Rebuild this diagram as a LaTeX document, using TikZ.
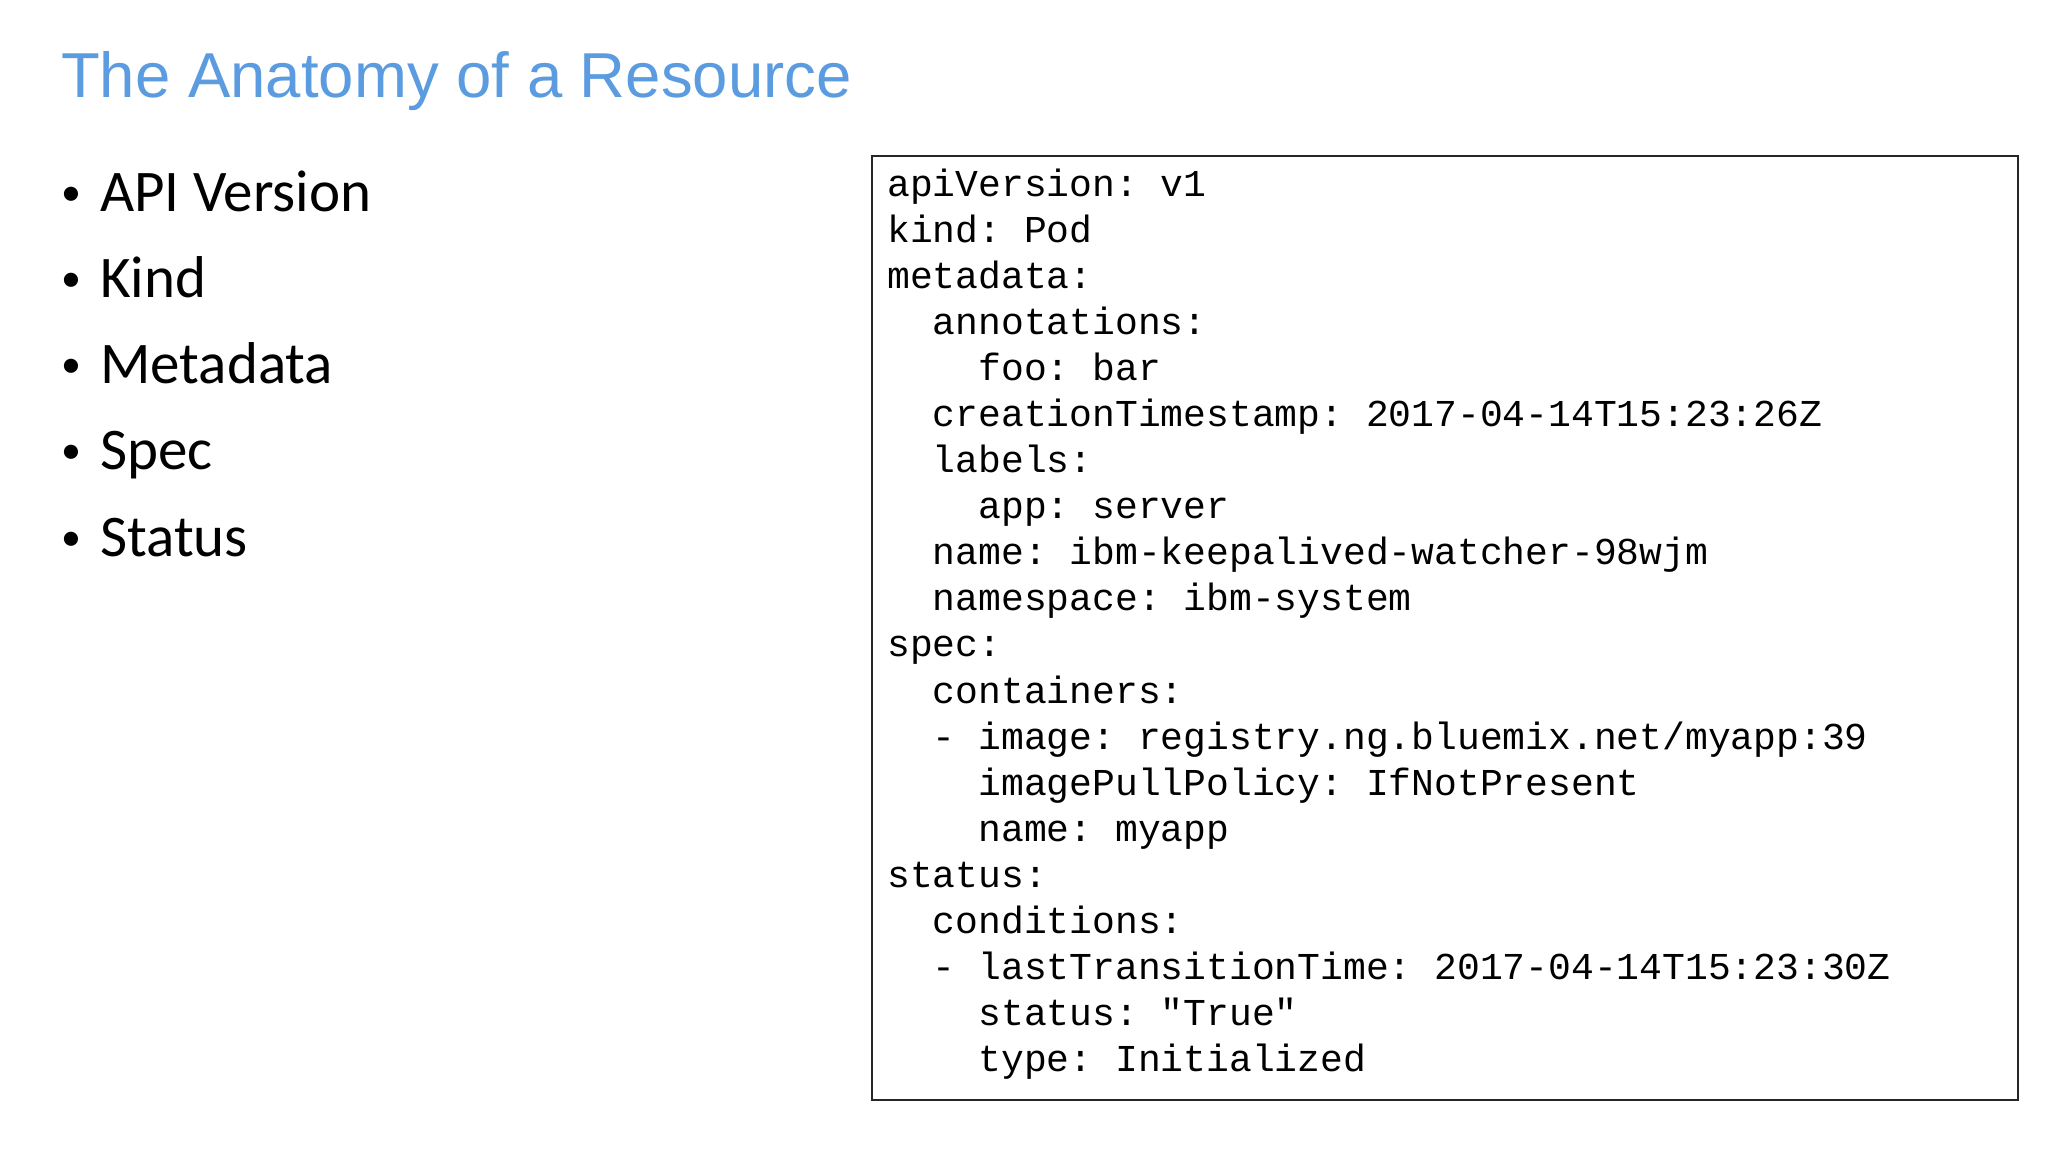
\documentclass[tikz,border=0pt]{standalone}
\usepackage{fontspec}
\setmainfont{Liberation Sans}
\newfontfamily\codefont{Liberation Mono}
\newfontfamily\bodyfont{Carlito}
\definecolor{titleblue}{HTML}{5B9BE0}
\begin{document}
\begin{tikzpicture}[x=1pt,y=-1pt,
  code/.style={anchor=west,inner sep=0pt,font=\codefont\fontsize{38}{38}\selectfont},
  bul/.style={anchor=base west,inner sep=0pt,font=\bodyfont\fontsize{59}{59}\selectfont},
  dot/.style={anchor=base west,inner sep=0pt,font=\bodyfont\fontsize{40}{40}\selectfont}]
\useasboundingbox (0,0) rectangle (2048,1152);
\node[anchor=west,inner sep=0pt,text=titleblue,font=\fontsize{63.5}{63.5}\selectfont] (title) at (61,81) {The Anatomy of a Resource};
\foreach \t [count=\i] in {API Version,Kind,Metadata,Spec,Status}{
  \node[dot] (d\i) at (61,{205+86.3*(\i-1)}) {\textbullet};
  \node[bul] (b\i) at (100,{211+86.3*(\i-1)}) {\t};
}
\draw[line width=1.6pt,draw=black!85] (872,156) rectangle (2018,1100);
\foreach \t [count=\i] in {
apiVersion: v1,
kind: Pod,
metadata:,
\ \ annotations:,
\ \ \ \ foo: bar,
\ \ creationTimestamp: 2017-04-14T15:23:26Z,
\ \ labels:,
\ \ \ \ app: server,
\ \ name: ibm-keepalived-watcher-98wjm,
\ \ namespace: ibm-system,
spec:,
\ \ containers:,
\ \ - image: registry.ng.bluemix.net/myapp:39,
\ \ \ \ imagePullPolicy: IfNotPresent,
\ \ \ \ name: myapp,
status:,
\ \ conditions:,
\ \ - lastTransitionTime: 2017-04-14T15:23:30Z,
\ \ \ \ status: "True",
\ \ \ \ type: Initialized}{
  \node[code] (c\i) at (887,{188+46.1*(\i-1)}) {\strut\frenchspacing\t};
}
\end{tikzpicture}
\end{document}
